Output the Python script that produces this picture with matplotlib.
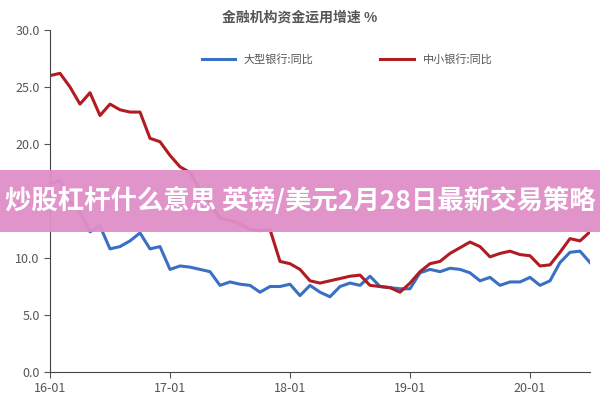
import matplotlib
matplotlib.use("Agg")
import matplotlib.pyplot as plt
from matplotlib.patches import Rectangle

plt.rcParams['font.family'] = ['Noto Sans CJK SC', 'DejaVu Sans']

blue = [16.5, 16.8, 15.0, 14.0, 12.3, 12.8, 10.8, 11.0, 11.5, 12.2, 10.8, 11.0,
        9.0, 9.3, 9.2, 9.0, 8.8, 7.6, 7.9, 7.7, 7.6, 7.0, 7.5, 7.5,
        7.7, 6.7, 7.6, 7.0, 6.6, 7.5, 7.8, 7.6, 8.4, 7.5, 7.4, 7.3,
        7.3, 8.7, 9.0, 8.8, 9.1, 9.0, 8.7, 8.0, 8.3, 7.6, 7.9, 7.9,
        8.3, 7.6, 8.0, 9.6, 10.5, 10.6, 9.6]
red = [26.0, 26.2, 25.0, 23.5, 24.5, 22.5, 23.5, 23.0, 22.8, 22.8, 20.5, 20.2,
       19.0, 18.0, 17.5, 16.0, 14.8, 13.5, 13.3, 13.0, 12.5, 12.4, 12.5, 9.7,
       9.5, 9.0, 8.0, 7.8, 8.0, 8.2, 8.4, 8.5, 7.6, 7.5, 7.4, 7.0,
       7.8, 8.8, 9.5, 9.7, 10.4, 10.9, 11.4, 11.0, 10.1, 10.4, 10.6, 10.3,
       10.2, 9.3, 9.4, 10.5, 11.7, 11.5, 12.3]
xticklabels = ['16-01', '17-01', '18-01', '19-01', '20-01']
legend_labels = ['大型银行:同比', '中小银行:同比']
title = '金融机构资金运用增速 %'
banner = '炒股杠杆什么意思 英镑/美元2月28日最新交易策略'

fig = plt.figure(figsize=(6, 4), dpi=100)
ax = fig.add_axes([50/600, 28/400, 540/600, 342/400])
x = list(range(len(blue)))
ax.plot(x, blue, color='#3a6fc4', lw=2.2, label=legend_labels[0])
ax.plot(x, red, color='#b01c22', lw=2.2, label=legend_labels[1])
ax.set_xlim(0, 54)
ax.set_ylim(0, 30)
ax.set_xticks([0, 12, 24, 36, 48])
ax.set_xticklabels(xticklabels)
ax.set_yticks([0, 5, 10, 15, 20, 25, 30])
ax.set_yticklabels(['0.0', '5.0', '10.0', '15.0', '20.0', '25.0', '30.0'])
ax.tick_params(colors='#555555', labelsize=9, direction='out', length=4)
for s in ['top', 'right']:
    ax.spines[s].set_visible(False)
for s in ['left', 'bottom']:
    ax.spines[s].set_color('#444444')
ax.legend(loc='upper center', bbox_to_anchor=(0.55, 0.96), ncol=2, frameon=False,
          fontsize=8, columnspacing=6, handlelength=3, labelcolor='#555555')
fig.text(0.5, 0.955, title, ha='center', va='center', fontsize=10, fontweight='bold', color='#555555')
fig.patches.append(Rectangle((0, 1 - 232/400), 1, 62/400, transform=fig.transFigure,
                             facecolor='#e08ec8', alpha=0.95, zorder=10))
fig.text(0.5, 1 - 201/400, banner, ha='center', va='center', fontsize=19,
         fontweight='bold', color='white', zorder=11)
fig.savefig('out.png')
